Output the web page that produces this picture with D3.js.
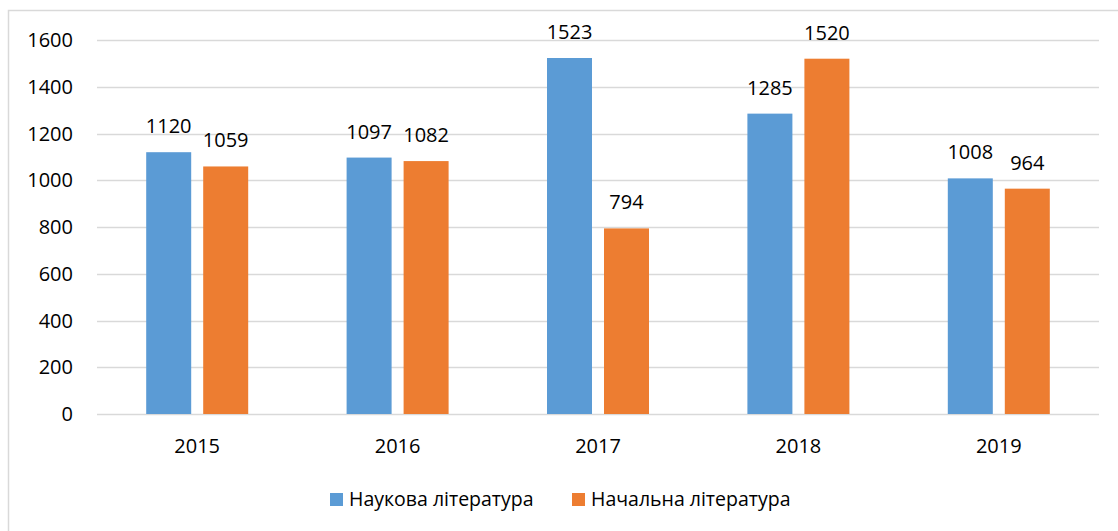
<!DOCTYPE html>
<html>
<head>
<meta charset="utf-8">
<script src="https://cdn.jsdelivr.net/npm/d3@7"></script>
<style>
  html, body { margin: 0; padding: 0; background: #ffffff; }
  svg { display: block; }
  text { font-family: "Open Sans", "DejaVu Sans", sans-serif; fill: #000000; }
</style>
</head>
<body>
<div id="chart"></div>
<script>
const years = ['2015', '2016', '2017', '2018', '2019'];
const seriesNames = ['Наукова література', 'Начальна література'];
const scienceValues = [1120, 1097, 1523, 1285, 1008];
const primaryValues = [1059, 1082, 794, 1520, 964];
const yTicks = [0, 200, 400, 600, 800, 1000, 1200, 1400, 1600];
const COLORS = ['#5B9BD5', '#ED7D31'];

const width = 1118;
const height = 531;
const margin = { top: 40, right: 19, bottom: 117, left: 97 };
const plotW = width - margin.left - margin.right;
const plotH = height - margin.top - margin.bottom;
const NUM_FONT = 20;

const svg = d3.select('#chart')
    .append('svg')
    .attr('width', width)
    .attr('height', height);

// outer chart frame (runs past the right and bottom edges)
svg.append('rect')
    .attr('x', 8.5)
    .attr('y', 10.5)
    .attr('width', 1130)
    .attr('height', 540)
    .attr('fill', 'none')
    .attr('stroke', '#D9D9D9')
    .attr('stroke-width', 1.5);

const g = svg.append('g')
    .attr('transform', `translate(${margin.left},${margin.top})`);

const yScale = d3.scaleLinear().domain([0, 1600]).range([plotH, 0]);
const xScale = d3.scaleBand().domain(years).range([0, plotW]).padding(0);

// gridlines
g.selectAll('line.grid')
    .data(yTicks)
    .join('line')
    .attr('class', 'grid')
    .attr('x1', 0)
    .attr('x2', plotW)
    .attr('y1', (d) => Math.round(yScale(d)) + 0.5)
    .attr('y2', (d) => Math.round(yScale(d)) + 0.5)
    .attr('stroke', '#D9D9D9')
    .attr('stroke-width', 1.5);

// y tick labels
g.selectAll('text.ytick')
    .data(yTicks)
    .join('text')
    .attr('class', 'ytick')
    .attr('x', -24)
    .attr('y', (d) => yScale(d))
    .attr('dy', '0.35em')
    .attr('text-anchor', 'end')
    .attr('font-size', NUM_FONT)
    .text((d) => d);

// x labels
g.selectAll('text.xtick')
    .data(years)
    .join('text')
    .attr('class', 'xtick')
    .attr('x', (d) => xScale(d) + xScale.bandwidth() / 2)
    .attr('y', plotH + 39)
    .attr('text-anchor', 'middle')
    .attr('font-size', NUM_FONT)
    .text((d) => d);

const barW = 45;
const gap = 12;
const series = [scienceValues, primaryValues];

series.forEach((vals, si) => {
    const offset = si === 0 ? -(gap / 2 + barW) : gap / 2;
    const rows = years.map((y, i) => ({ year: y, value: vals[i] }));
    g.selectAll(`rect.bar-${si}`)
        .data(rows)
        .join('rect')
        .attr('class', `bar-${si}`)
        .attr('x', (d) => xScale(d.year) + xScale.bandwidth() / 2 + offset)
        .attr('width', barW)
        .attr('y', (d) => yScale(d.value))
        .attr('height', (d) => plotH - yScale(d.value))
        .attr('fill', COLORS[si]);

    g.selectAll(`text.lbl-${si}`)
        .data(rows)
        .join('text')
        .attr('class', `lbl-${si}`)
        .attr('x', (d) => xScale(d.year) + xScale.bandwidth() / 2 + offset + barW / 2)
        .attr('y', (d) => yScale(d.value) - 19)
        .attr('text-anchor', 'middle')
        .attr('font-size', NUM_FONT)
        .text((d) => d.value);
});

// legend
const legendX = [330, 572];
const legend = svg.append('g');
seriesNames.forEach((name, i) => {
    legend.append('rect')
        .attr('x', legendX[i])
        .attr('y', 493)
        .attr('width', 13)
        .attr('height', 13)
        .attr('fill', COLORS[i]);
    legend.append('text')
        .attr('x', legendX[i] + 19)
        .attr('y', 506)
        .attr('font-size', 19.5)
        .text(name);
});
</script>
</body>
</html>
